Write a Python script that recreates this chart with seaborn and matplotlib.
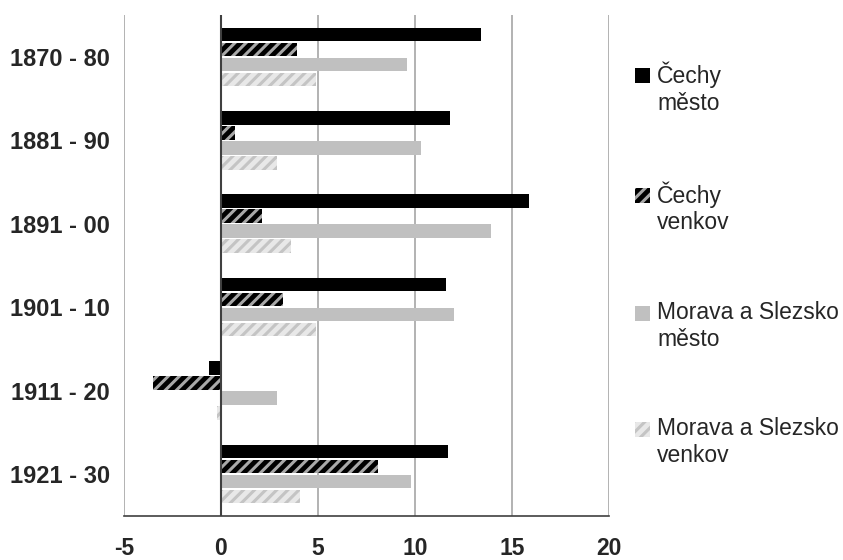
import numpy as np
import pandas as pd
import seaborn as sns
import matplotlib.pyplot as plt
from matplotlib.patches import Patch, Rectangle
from matplotlib.legend_handler import HandlerPatch

periods = ['1870 - 80', '1881 - 90', '1891 - 00', '1901 - 10', '1911 - 20', '1921 - 30']
series = ['Čechy\nměsto', 'Čechy\nvenkov', 'Morava a Slezsko\nměsto', 'Morava a Slezsko\nvenkov']
cechy_mesto = [13.4, 11.8, 15.9, 11.6, -0.6, 11.7]
cechy_venkov = [3.9, 0.7, 2.1, 3.2, -3.5, 8.1]
morava_mesto = [9.6, 10.3, 13.9, 12.0, 2.9, 9.8]
morava_venkov = [4.9, 2.9, 3.6, 4.9, -0.2, 4.1]
xticks = [-5, 0, 5, 10, 15, 20]

df = pd.DataFrame({
    'period': periods * 4,
    'series': np.repeat(series, len(periods)),
    'value': cechy_mesto + cechy_venkov + morava_mesto + morava_venkov,
})

# face colour, hatch colour, hatch
styles = [('#000000', '#000000', ''),
          ('#000000', '#A8A8A8', '///'),
          ('#C0C0C0', '#C0C0C0', ''),
          ('#E8E8E8', '#C4C4C4', '///')]

sns.set_style('white')
plt.rcParams['font.family'] = ['Liberation Sans', 'DejaVu Sans']
plt.rcParams['hatch.linewidth'] = 2.2

fig = plt.figure(figsize=(8.43, 5.6), dpi=100)
ax = fig.add_axes([0.147, 0.079, 0.5754, 0.894])

sns.barplot(data=df, x='value', y='period', hue='series', orient='h',
            order=periods, hue_order=series, width=0.72, gap=0.1,
            palette=[s[0] for s in styles], saturation=1, ax=ax, legend=False)

handles = []
for cont, (fc, hc, h) in zip(ax.containers, styles):
    for p in cont:
        p.set_facecolor(fc)
        p.set_edgecolor(hc)
        p.set_hatch(h)
        p.set_linewidth(0)
    handles.append(Patch(facecolor=fc, edgecolor=hc, hatch=h, linewidth=0))

ax.set_xlim(-5, 20)
ax.set_ylim(5.5, -0.5)
ax.set_xticks(xticks)
ax.set_xticklabels([str(t) for t in xticks])
ax.grid(axis='x', color='#A6A6A6', linewidth=1.2)
ax.set_axisbelow(True)
ax.axvline(0, color='#404040', linewidth=1.5, zorder=5)
for s in ['top', 'right', 'left']:
    ax.spines[s].set_visible(False)
ax.spines['bottom'].set_color('#404040')
ax.spines['bottom'].set_linewidth(1.2)
ax.tick_params(axis='x', direction='out', length=6, width=1.2, color='#404040',
               pad=9, labelsize=16.5)
ax.tick_params(axis='y', length=0, pad=10, labelsize=17)
for lab in ax.get_xticklabels() + ax.get_yticklabels():
    lab.set_fontweight('bold')
ax.set_xlabel('')
ax.set_ylabel('')


# legend square sits on the first line of a two-line label
def first_line_box(legend, orig_handle, xdescent, ydescent, width, height, fontsize):
    return Rectangle((-xdescent, -ydescent + 0.58 * fontsize), width, height)


leg_fs = 16.5
fig.legend(handles, series, loc='upper left', bbox_to_anchor=(0.729, 0.927),
           frameon=False, fontsize=leg_fs, handlelength=0.65, handleheight=0.65,
           handletextpad=0.3, labelspacing=2.91,
           handler_map={Patch: HandlerPatch(patch_func=first_line_box)})

fig.savefig('out.png', dpi=100)
